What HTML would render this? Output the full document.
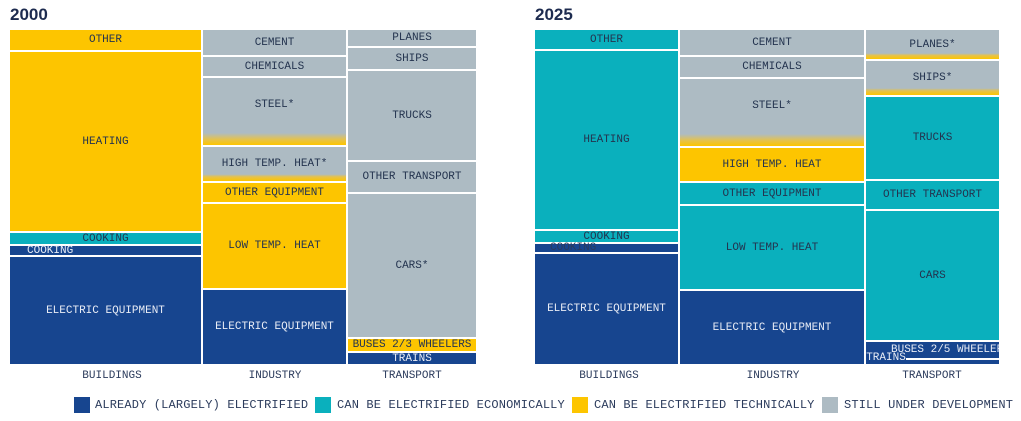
<!DOCTYPE html>
<html><head><meta charset="utf-8"><style>
body{margin:0;width:1021px;height:421px;background:#fff;position:relative;overflow:hidden;font-family:"Liberation Mono",monospace;}
.b{position:absolute;display:flex;align-items:center;justify-content:center;font-size:11px;color:#24344f;white-space:nowrap;overflow:visible;}
.n{background:#17458f;color:#e8ecf5;}
.t{background:#0ab0bd;}
.y{background:#fdc500;}
.g{background:#adbbc3;}
.gy{background:linear-gradient(to bottom,#adbbc3 0%,#adbbc3 82%,#e6c24a 92%,#fdc500 100%);}
.gy2{background:linear-gradient(to bottom,#adbbc3 0%,#adbbc3 80%,#e6c24a 88%,#fdc500 100%);}
.title{position:absolute;font-family:"Liberation Sans",sans-serif;font-size:17px;font-weight:bold;color:#1d2b4f;top:5px;}
.ax{position:absolute;top:370px;font-size:11px;color:#2b3b5c;transform:translateX(-50%);}
.lg{position:absolute;top:397px;width:16px;height:16px;}
.lt{position:absolute;top:398px;font-size:12px;color:#2b3b5c;white-space:nowrap;letter-spacing:0.15px;}
</style></head><body>
<div class="title" style="left:10px">2000</div>
<div class="title" style="left:535px">2025</div>

<div class="b y" style="left:10px;top:30px;width:191px;height:20px">OTHER</div>
<div class="b y" style="left:10px;top:52px;width:191px;height:179px">HEATING</div>
<div class="b t" style="left:10px;top:233px;width:191px;height:11px">COOKING</div>
<div class="b n" style="left:10px;top:246px;width:191px;height:9px;justify-content:flex-start;padding-left:17px;box-sizing:border-box">COOKING</div>
<div class="b n" style="left:10px;top:257px;width:191px;height:107px">ELECTRIC EQUIPMENT</div>
<div class="b g" style="left:203px;top:30px;width:143px;height:25px">CEMENT</div>
<div class="b g" style="left:203px;top:57px;width:143px;height:19px">CHEMICALS</div>
<div class="b gy" style="left:203px;top:78px;width:143px;height:67px;padding-bottom:14px;box-sizing:border-box">STEEL*</div>
<div class="b gy2" style="left:203px;top:147px;width:143px;height:34px">HIGH TEMP. HEAT*</div>
<div class="b y" style="left:203px;top:183px;width:143px;height:19px">OTHER EQUIPMENT</div>
<div class="b y" style="left:203px;top:204px;width:143px;height:84px">LOW TEMP. HEAT</div>
<div class="b n" style="left:203px;top:290px;width:143px;height:74px">ELECTRIC EQUIPMENT</div>
<div class="b g" style="left:348px;top:30px;width:128px;height:16px">PLANES</div>
<div class="b g" style="left:348px;top:48px;width:128px;height:21px">SHIPS</div>
<div class="b g" style="left:348px;top:71px;width:128px;height:89px">TRUCKS</div>
<div class="b g" style="left:348px;top:162px;width:128px;height:30px">OTHER TRANSPORT</div>
<div class="b g" style="left:348px;top:194px;width:128px;height:143px">CARS*</div>
<div class="b y" style="left:348px;top:339px;width:128px;height:12px">BUSES 2/3 WHEELERS</div>
<div class="b n" style="left:348px;top:353px;width:128px;height:11px">TRAINS</div>

<div class="b t" style="left:535px;top:30px;width:143px;height:19px">OTHER</div>
<div class="b t" style="left:535px;top:51px;width:143px;height:178px">HEATING</div>
<div class="b t" style="left:535px;top:231px;width:143px;height:11px">COOKING</div>
<div class="b n" style="left:535px;top:244px;width:143px;height:8px;justify-content:flex-start;padding-left:15px;box-sizing:border-box;color:#2b3b5c">COOKING</div>
<div class="b n" style="left:535px;top:254px;width:143px;height:110px">ELECTRIC EQUIPMENT</div>
<div class="b g" style="left:680px;top:30px;width:184px;height:25px">CEMENT</div>
<div class="b g" style="left:680px;top:57px;width:184px;height:20px">CHEMICALS</div>
<div class="b gy" style="left:680px;top:79px;width:184px;height:67px;padding-bottom:14px;box-sizing:border-box">STEEL*</div>
<div class="b y" style="left:680px;top:148px;width:184px;height:33px">HIGH TEMP. HEAT</div>
<div class="b t" style="left:680px;top:183px;width:184px;height:21px">OTHER EQUIPMENT</div>
<div class="b t" style="left:680px;top:206px;width:184px;height:83px">LOW TEMP. HEAT</div>
<div class="b n" style="left:680px;top:291px;width:184px;height:73px">ELECTRIC EQUIPMENT</div>
<div class="b gy2" style="left:866px;top:30px;width:133px;height:29px">PLANES*</div>
<div class="b gy2" style="left:866px;top:61px;width:133px;height:34px">SHIPS*</div>
<div class="b t" style="left:866px;top:97px;width:133px;height:82px">TRUCKS</div>
<div class="b t" style="left:866px;top:181px;width:133px;height:28px">OTHER TRANSPORT</div>
<div class="b t" style="left:866px;top:211px;width:133px;height:129px">CARS</div>
<div class="b n" style="left:866px;top:342px;width:133px;height:16px;justify-content:flex-start;padding-left:25px;box-sizing:border-box;overflow:hidden">BUSES 2/5 WHEELERS</div>
<div class="b n" style="left:866px;top:360px;width:133px;height:4px"></div>
<div class="b n" style="left:866px;top:352px;width:40px;height:12px">TRAINS</div>

<div class="ax" style="left:112px">BUILDINGS</div>
<div class="ax" style="left:275px">INDUSTRY</div>
<div class="ax" style="left:412px">TRANSPORT</div>
<div class="ax" style="left:609px">BUILDINGS</div>
<div class="ax" style="left:773px">INDUSTRY</div>
<div class="ax" style="left:932px">TRANSPORT</div>

<div class="lg" style="left:74px;background:#17458f"></div>
<div class="lt" style="left:95px">ALREADY (LARGELY) ELECTRIFIED</div>
<div class="lg" style="left:315px;background:#0ab0bd"></div>
<div class="lt" style="left:337px">CAN BE ELECTRIFIED ECONOMICALLY</div>
<div class="lg" style="left:572px;background:#fdc500"></div>
<div class="lt" style="left:594px">CAN BE ELECTRIFIED TECHNICALLY</div>
<div class="lg" style="left:822px;background:#adbbc3"></div>
<div class="lt" style="left:844px">STILL UNDER DEVELOPMENT</div>
</body></html>
